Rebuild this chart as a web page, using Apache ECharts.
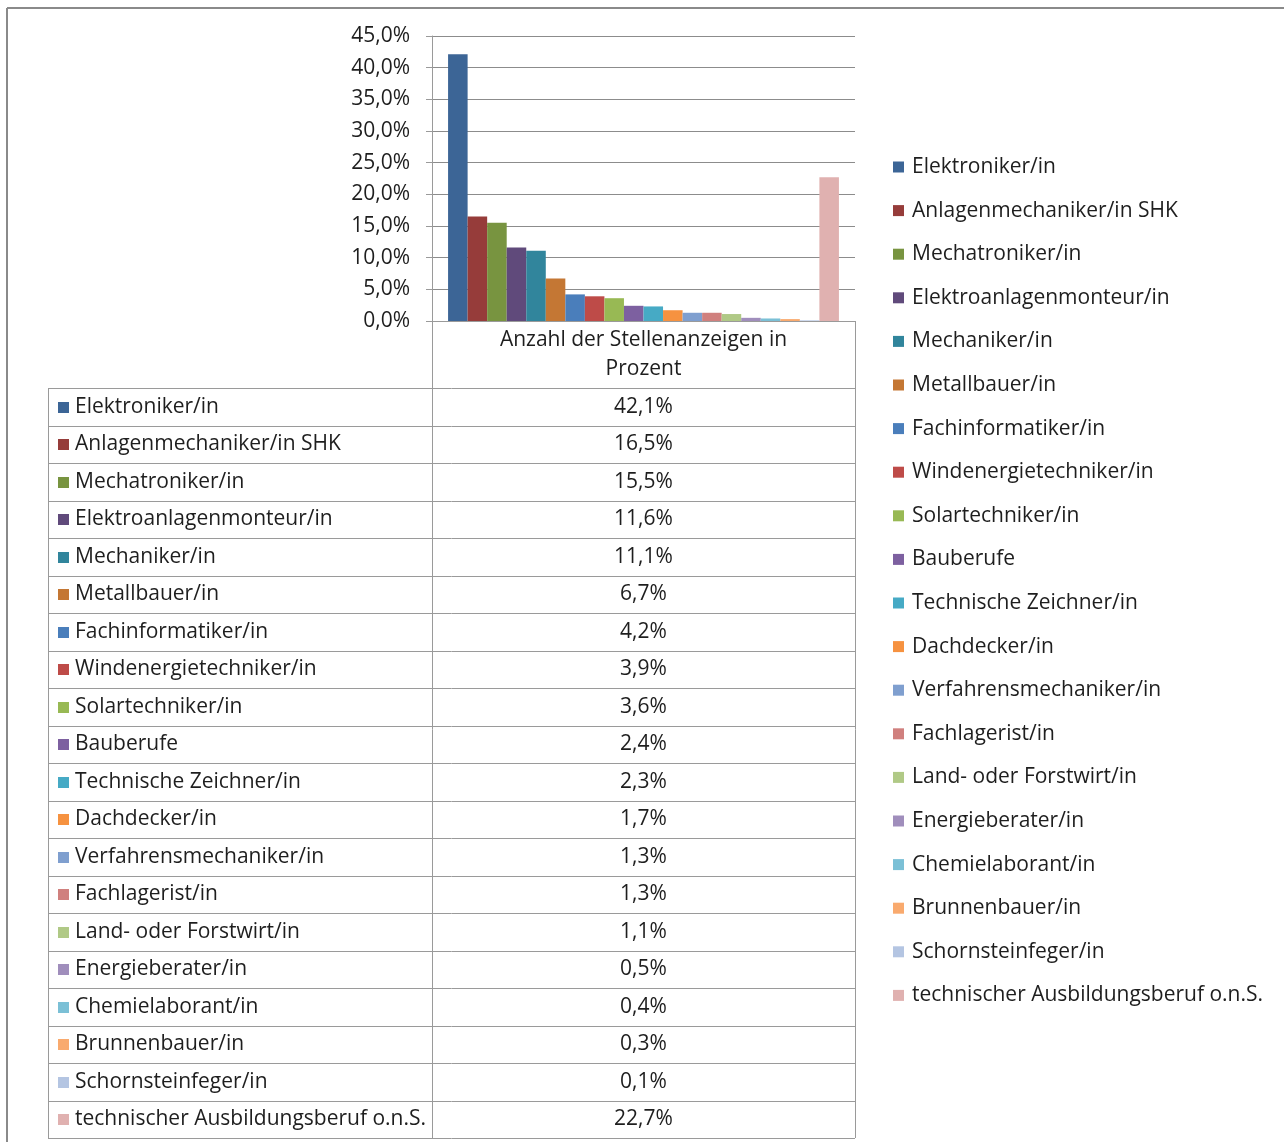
<!DOCTYPE html>
<html>
<head>
<meta charset="utf-8">
<script src="https://cdn.jsdelivr.net/npm/echarts@6/dist/echarts.min.js"></script>
<style>
html,body{margin:0;padding:0;background:#fff;}
#chart{width:1284px;height:1142px;}
</style>
</head>
<body>
<div id="chart"></div>
<script>
// ---- data ----
var categoryLabel = 'Anzahl der Stellenanzeigen in\nProzent';
var jobNames = [
  'Elektroniker/in',
  'Anlagenmechaniker/in SHK',
  'Mechatroniker/in',
  'Elektroanlagenmonteur/in',
  'Mechaniker/in',
  'Metallbauer/in',
  'Fachinformatiker/in',
  'Windenergietechniker/in',
  'Solartechniker/in',
  'Bauberufe',
  'Technische Zeichner/in',
  'Dachdecker/in',
  'Verfahrensmechaniker/in',
  'Fachlagerist/in',
  'Land- oder Forstwirt/in',
  'Energieberater/in',
  'Chemielaborant/in',
  'Brunnenbauer/in',
  'Schornsteinfeger/in',
  'technischer Ausbildungsberuf o.n.S.'
];
var percentValues = [42.1, 16.5, 15.5, 11.6, 11.1, 6.7, 4.2, 3.9, 3.6, 2.4, 2.3, 1.7, 1.3, 1.3, 1.1, 0.5, 0.4, 0.3, 0.1, 22.7];
var seriesColors = [
  '#3C6596', '#963C3A', '#789440', '#604A7B', '#31859C', '#C47734',
  '#4A7EBB', '#BE4B48', '#98B954', '#7D60A0', '#46AAC5', '#F69240',
  '#7F9FCF', '#D0807E', '#B0C986', '#A08EBC', '#7BC0D6', '#F9AA6E',
  '#B4C5E2', '#E0B1B0'
];
var yMin = 0, yMax = 45, yStep = 5;

// ---- helpers ----
function fmt(v){ return v.toFixed(1).replace('.', ',') + '%'; }

var FONT = '"Open Sans"';
var FS = 21;
var TXT = '#1e1e1e';
var LINE = '#9a9a9a';

// layout
var gridL = 432, gridT = 36, gridW = 423, gridH = 285;
var tableLeft = 48, tableTop = 388, rowH = 37.5, colDiv = 432, tableRight = 855;
var nRows = jobNames.length;
var tableBottom = tableTop + nRows * rowH;

var series = jobNames.map(function(name, i){
  return {
    name: name,
    type: 'bar',
    data: [percentValues[i]],
    barGap: '0%',
    barCategoryGap: '7.6%',
    itemStyle: { color: seriesColors[i] },
    animation: false
  };
});

var graphics = [];
// outer frame
graphics.push({type:'line', shape:{x1:7,y1:8,x2:1284,y2:8}, style:{stroke:'#8a8a8a', lineWidth:2}});
graphics.push({type:'line', shape:{x1:7,y1:8,x2:7,y2:1142}, style:{stroke:'#8a8a8a', lineWidth:2}});
// table lines
for (var r = 0; r <= nRows; r++) {
  var y = Math.round(tableTop + r * rowH) + 0.5;
  graphics.push({type:'line', shape:{x1:tableLeft, y1:y, x2:tableRight, y2:y}, style:{stroke:LINE, lineWidth:1}});
}
graphics.push({type:'line', shape:{x1:tableLeft+0.5, y1:tableTop, x2:tableLeft+0.5, y2:tableBottom}, style:{stroke:LINE, lineWidth:1}});
graphics.push({type:'line', shape:{x1:colDiv+0.5, y1:gridT+gridH, x2:colDiv+0.5, y2:tableBottom}, style:{stroke:LINE, lineWidth:1}});
graphics.push({type:'line', shape:{x1:tableRight+0.5, y1:gridT+gridH, x2:tableRight+0.5, y2:tableBottom}, style:{stroke:LINE, lineWidth:1}});
// table rows
jobNames.forEach(function(name, i){
  var cy = tableTop + i * rowH + rowH / 2;
  graphics.push({type:'rect', shape:{x:58, y:Math.round(cy-5), width:11, height:11}, style:{fill:seriesColors[i]}});
  graphics.push({type:'text', x:75, y:cy, style:{text:name, font:FS + 'px ' + FONT, fill:TXT, textVerticalAlign:'middle', verticalAlign:'middle'}});
  graphics.push({type:'text', x:(colDiv+tableRight)/2, y:cy, style:{text:fmt(percentValues[i]), font:FS + 'px ' + FONT, fill:TXT, textAlign:'center', align:'center', textVerticalAlign:'middle', verticalAlign:'middle'}});
});

var option = {
  backgroundColor: '#fff',
  animation: false,
  textStyle: { fontFamily: FONT },
  grid: { left: gridL, top: gridT, width: gridW, height: gridH, containLabel: false },
  xAxis: {
    type: 'category',
    data: [categoryLabel],
    axisLine: { show: true, lineStyle: { color: LINE, width: 1 } },
    axisTick: { show: false },
    axisLabel: { interval: 0, color: TXT, fontSize: FS, fontFamily: FONT, lineHeight: 29, margin: 5 },
    splitLine: { show: false }
  },
  yAxis: {
    type: 'value',
    min: yMin, max: yMax, interval: yStep,
    axisLine: { show: true, lineStyle: { color: LINE, width: 1 } },
    axisTick: { show: true, length: 6, lineStyle: { color: LINE } },
    axisLabel: { formatter: fmt, color: TXT, fontSize: FS, fontFamily: FONT, margin: 22 },
    splitLine: { show: true, lineStyle: { color: '#8c8c8c', width: 1 } }
  },
  legend: {
    orient: 'vertical',
    left: 893, top: 155,
    padding: 0,
    icon: 'rect',
    itemWidth: 11, itemHeight: 11,
    itemGap: 19.6,
    textStyle: { fontSize: FS, fontFamily: FONT, color: TXT, lineHeight: 24, padding: [0,0,0,3] },
    selectedMode: false,
    data: jobNames
  },
  graphic: graphics,
  series: series
};

var chart = echarts.init(document.getElementById('chart'), null, { renderer: 'canvas' });
chart.setOption(option);
</script>
</body>
</html>
